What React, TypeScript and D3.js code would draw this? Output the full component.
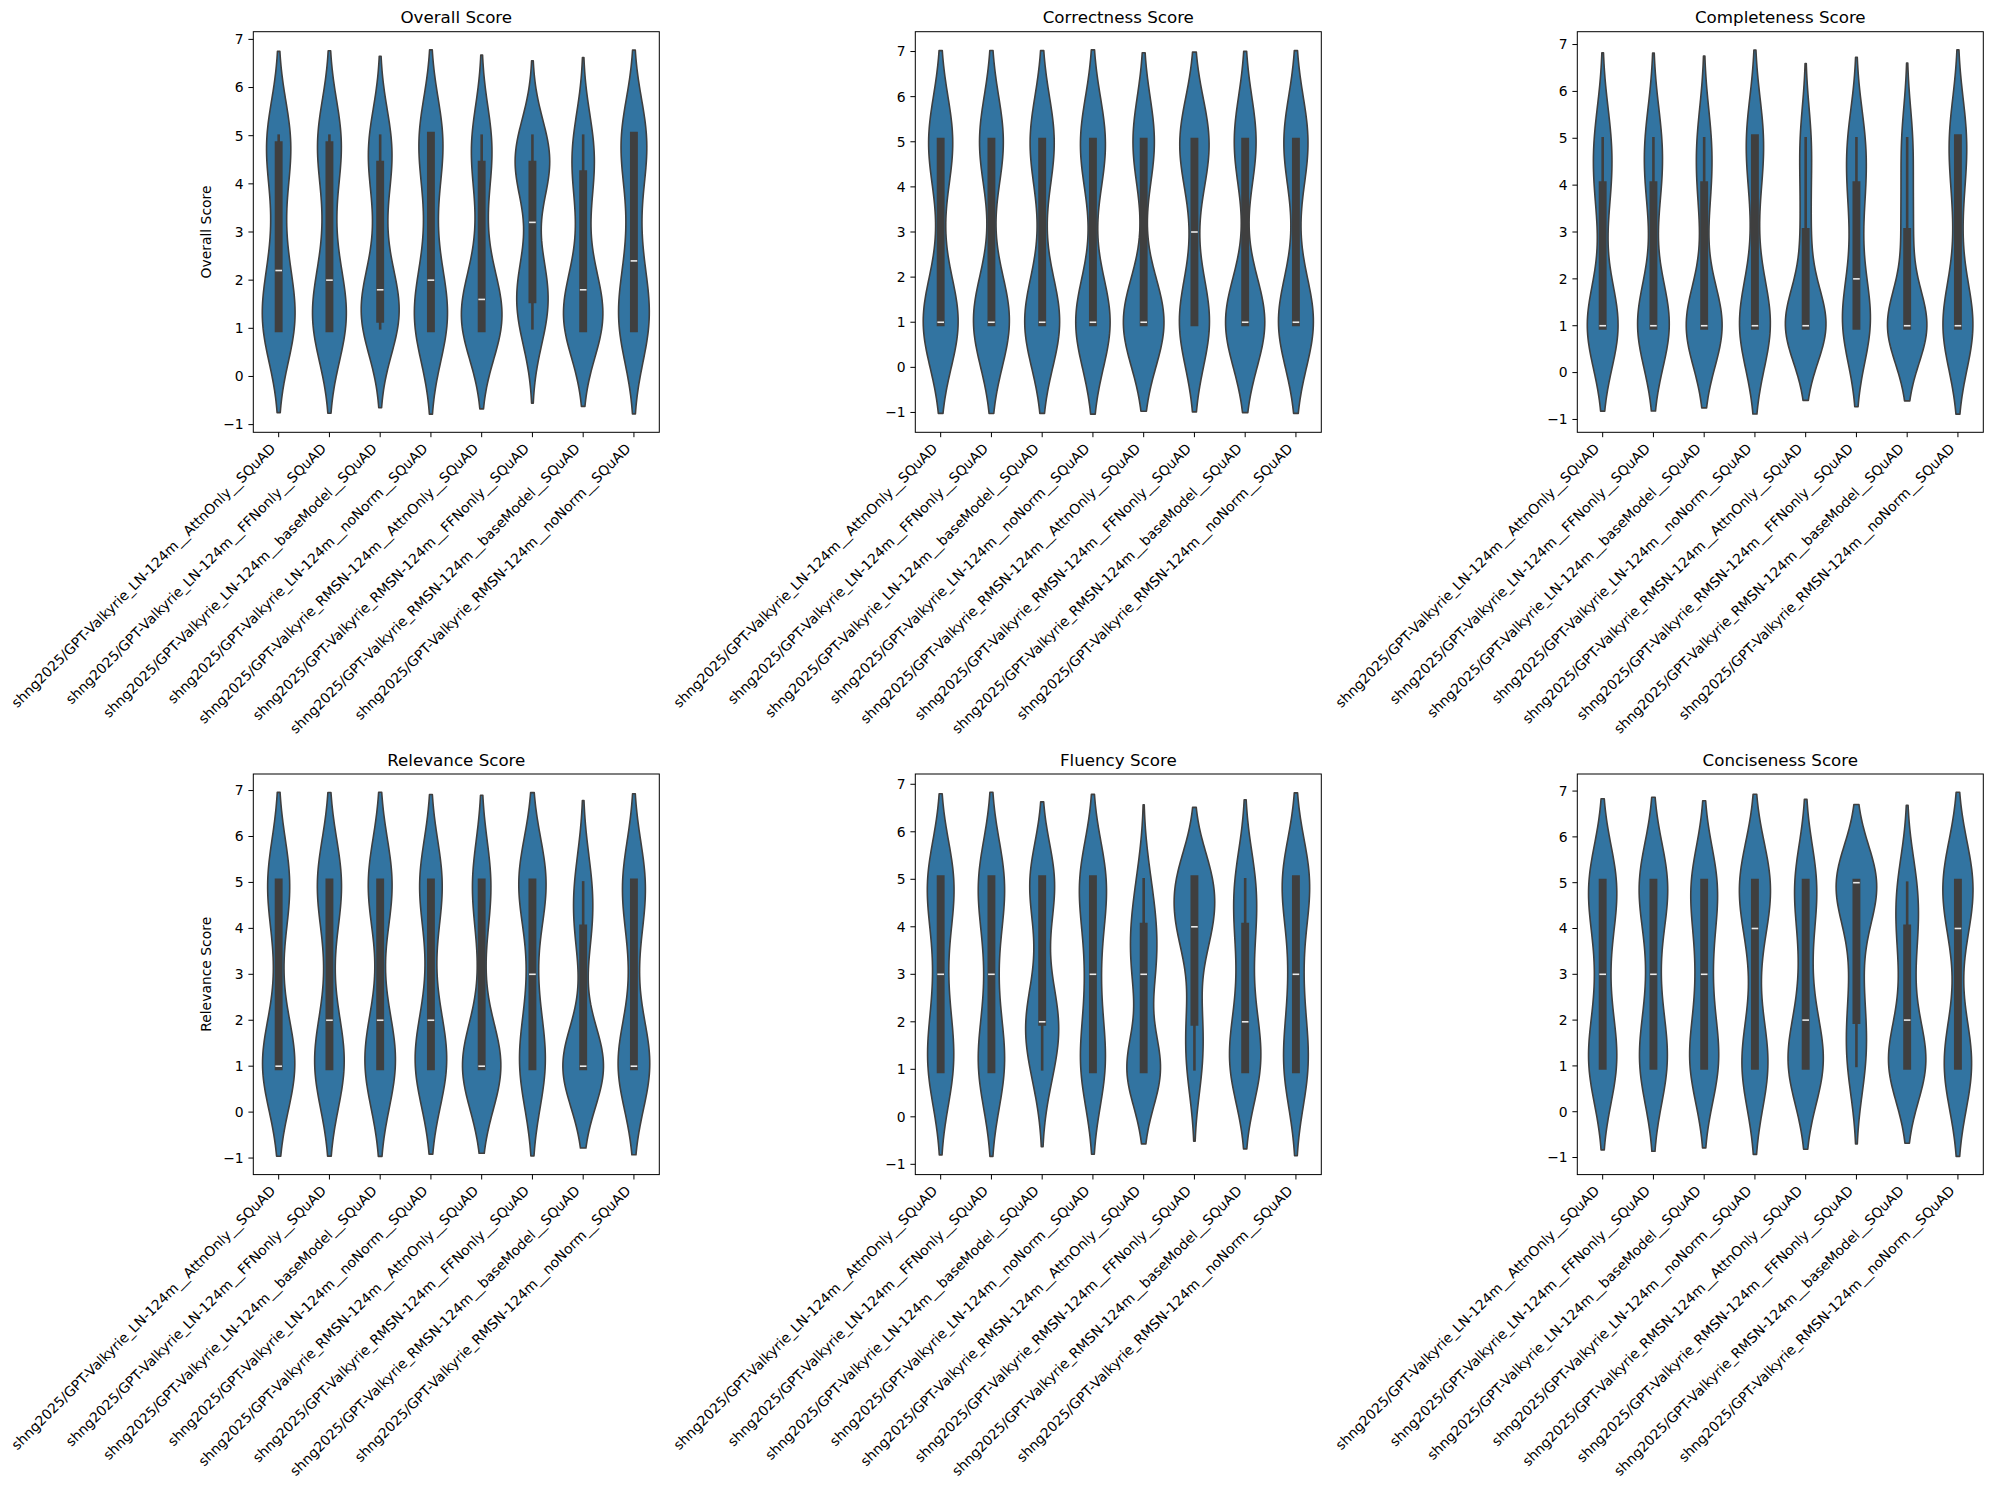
import React from "react";
import * as d3 from "d3";

// category labels (x axis of every panel)
const models = [
  "shng2025/GPT-Valkyrie_LN-124m__AttnOnly__SQuAD",
  "shng2025/GPT-Valkyrie_LN-124m__FFNonly__SQuAD",
  "shng2025/GPT-Valkyrie_LN-124m__baseModel__SQuAD",
  "shng2025/GPT-Valkyrie_LN-124m__noNorm__SQuAD",
  "shng2025/GPT-Valkyrie_RMSN-124m__AttnOnly__SQuAD",
  "shng2025/GPT-Valkyrie_RMSN-124m__FFNonly__SQuAD",
  "shng2025/GPT-Valkyrie_RMSN-124m__baseModel__SQuAD",
  "shng2025/GPT-Valkyrie_RMSN-124m__noNorm__SQuAD",
];

const yTickValues = [-1, 0, 1, 2, 3, 4, 5, 6, 7];

// overall score per answer (average of the judged criteria)
const overallScores = [
  [1, 1, 1, 1, 1, 1, 1, 1, 1.2, 1.2, 1.4, 1.6, 2.0, 2.2, 2.2, 2.6, 3.0, 3.8, 4.2, 4.4, 4.8, 4.8, 5, 5, 5, 5, 5, 5],
  [1, 1, 1, 1, 1, 1, 1, 1, 1.2, 1.2, 1.4, 1.6, 1.8, 2.0, 2.0, 2.4, 3.0, 3.6, 4.2, 4.6, 4.8, 4.8, 5, 5, 5, 5, 5, 5],
  [1, 1, 1, 1, 1, 1.2, 1.2, 1.2, 1.4, 1.4, 1.4, 1.6, 1.6, 1.8, 1.8, 2.2, 2.6, 3.2, 4.0, 4.2, 4.4, 4.4, 4.6, 4.8, 5, 5, 5, 5],
  [1, 1, 1, 1, 1, 1, 1, 1, 1.2, 1.4, 1.4, 1.6, 1.8, 2.0, 2.0, 2.6, 3.2, 3.8, 4.2, 4.6, 5, 5, 5, 5, 5, 5, 5, 5],
  [1, 1, 1, 1, 1, 1, 1, 1, 1.2, 1.2, 1.2, 1.4, 1.4, 1.6, 1.6, 1.8, 2.0, 2.4, 3.0, 3.8, 4.4, 4.4, 4.6, 4.8, 5, 5, 5, 5],
  [1, 1, 1, 1.2, 1.4, 1.4, 1.6, 1.6, 1.8, 1.8, 2.0, 2.2, 2.4, 2.4, 4.0, 4.0, 4.2, 4.2, 4.4, 4.4, 4.4, 4.4, 4.6, 4.6, 4.8, 4.8, 5, 5],
  [1, 1, 1, 1, 1, 1, 1, 1, 1.2, 1.2, 1.4, 1.4, 1.6, 1.8, 1.8, 2.0, 2.2, 2.8, 3.6, 4.0, 4.2, 4.2, 4.4, 4.6, 4.8, 5, 5, 5],
  [1, 1, 1, 1, 1, 1, 1, 1, 1.2, 1.4, 1.6, 1.8, 2.0, 2.4, 2.4, 3.0, 3.6, 4.2, 4.4, 4.6, 5, 5, 5, 5, 5, 5, 5, 5],
];

// counts of answers scored 1,2,3,4,5 for each model
const correctnessCounts = [
  [16, 0, 1, 0, 11], [16, 1, 0, 0, 11], [16, 0, 1, 0, 11], [16, 0, 0, 1, 11],
  [19, 0, 0, 0, 10], [15, 0, 1, 1, 14], [18, 0, 0, 0, 10], [16, 0, 1, 0, 11],
];
const completenessCounts = [
  [16, 0, 1, 5, 6], [16, 1, 0, 5, 6], [18, 0, 1, 4, 5], [16, 1, 1, 2, 8],
  [18, 1, 3, 2, 4], [12, 3, 2, 5, 6], [18, 0, 4, 2, 4], [16, 0, 2, 2, 8],
];
const relevanceCounts = [
  [15, 1, 1, 1, 10], [13, 2, 1, 1, 11], [13, 3, 0, 1, 11], [13, 3, 1, 1, 10],
  [18, 0, 1, 1, 8], [11, 2, 2, 0, 13], [18, 0, 0, 5, 5], [15, 1, 1, 2, 10],
];
const fluencyCounts = [
  [9, 4, 2, 3, 10], [10, 3, 2, 3, 10], [5, 10, 2, 2, 9], [9, 3, 3, 3, 10],
  [13, 0, 6, 6, 3], [4, 4, 1, 9, 10], [10, 5, 2, 5, 6], [9, 3, 3, 2, 11],
];
const concisenessCounts = [
  [10, 3, 2, 3, 10], [10, 3, 2, 2, 11], [10, 3, 3, 3, 9], [11, 1, 1, 3, 12],
  [13, 3, 2, 2, 8], [5, 4, 2, 2, 15], [13, 3, 2, 5, 5], [12, 1, 0, 3, 12],
];

const expand = (counts: number[]) => counts.flatMap((c, k) => Array(c).fill(k + 1));

const panels = [
  { title: "Overall Score", data: overallScores, ylabel: "Overall Score" },
  { title: "Correctness Score", data: correctnessCounts.map(expand), ylabel: null },
  { title: "Completeness Score", data: completenessCounts.map(expand), ylabel: null },
  { title: "Relevance Score", data: relevanceCounts.map(expand), ylabel: "Relevance Score" },
  { title: "Fluency Score", data: fluencyCounts.map(expand), ylabel: null },
  { title: "Conciseness Score", data: concisenessCounts.map(expand), ylabel: null },
];

const WIDTH = 1993;
const HEIGHT = 1489;
const colLefts = [253.3, 915.3, 1577.3];
const rowTops = [31.7, 774];
const W = 406;
const H = 400.6;

const FILL = "#3274a1";
const LINE = "#3f3f3f";
const FONT = "DejaVu Sans, sans-serif";
const TICK_FS = 13.9;
const TITLE_FS = 16.7;

// seaborn-like violin: gaussian kde, scott bandwidth, cut = 2
function violinStats(values: number[]) {
  const sorted = values.slice().sort((a, b) => a - b);
  const n = sorted.length;
  const sd = d3.deviation(sorted) as number;
  const bw = sd * Math.pow(n, -0.2);
  const lo = sorted[0] - 2 * bw;
  const hi = sorted[n - 1] + 2 * bw;
  const grid = d3.range(100).map((i) => lo + ((hi - lo) * i) / 99);
  const norm = 1 / (bw * Math.sqrt(2 * Math.PI));
  const curve = grid.map((g) => [
    g,
    (d3.mean(sorted, (v) => Math.exp(-0.5 * ((g - v) / bw) ** 2)) as number) * norm,
  ]);
  const q1 = d3.quantileSorted(sorted, 0.25) as number;
  const med = d3.quantileSorted(sorted, 0.5) as number;
  const q3 = d3.quantileSorted(sorted, 0.75) as number;
  const iqr = q3 - q1;
  const whisLo = sorted.find((v) => v >= q1 - 1.5 * iqr) as number;
  const whisHi = sorted.filter((v) => v <= q3 + 1.5 * iqr).pop() as number;
  return { curve, lo, hi, q1, med, q3, whisLo, whisHi };
}

function Panel({ title, data, ylabel, left, top }: any) {
  const stats = data.map(violinStats);
  const lo = d3.min(stats, (s: any) => s.lo) as number;
  const hi = d3.max(stats, (s: any) => s.hi) as number;
  const margin = (hi - lo) * 0.05;
  const x = d3.scaleLinear().domain([-0.5, models.length - 0.5]).range([0, W]);
  const y = d3.scaleLinear().domain([lo - margin, hi + margin]).range([H, 0]);
  const maxD = d3.max(stats, (s: any) => d3.max(s.curve, (c: number[]) => c[1])) as number;
  const unit = x(1) - x(0);
  const fmt = d3.format("d");

  return (
    <g transform={`translate(${left},${top})`}>
      {stats.map((s: any, i: number) => {
        const cx = x(i);
        const area = d3
          .area<number[]>()
          .y((d) => y(d[0]))
          .x0((d) => cx - (d[1] / maxD) * 0.4 * unit)
          .x1((d) => cx + (d[1] / maxD) * 0.4 * unit);
        return (
          <g key={i}>
            <path d={area(s.curve) as string} fill={FILL} stroke={LINE} strokeWidth={1.6} strokeLinejoin="round" />
            <line x1={cx} x2={cx} y1={y(s.whisLo)} y2={y(s.whisHi)} stroke={LINE} strokeWidth={2.6} strokeLinecap="square" />
            <line x1={cx} x2={cx} y1={y(s.q1)} y2={y(s.q3)} stroke={LINE} strokeWidth={7.9} strokeLinecap="square" />
            <line x1={cx - 3.3} x2={cx + 3.3} y1={y(s.med)} y2={y(s.med)} stroke="#ebebeb" strokeWidth={1.6} />
          </g>
        );
      })}
      <rect x={0} y={0} width={W} height={H} fill="none" stroke="#000" strokeWidth={1} />
      {yTickValues.map((t) => (
        <g key={t} transform={`translate(0,${y(t)})`}>
          <line x1={-4.9} x2={0} stroke="#000" strokeWidth={1} />
          <text x={-9.7} dy="0.35em" textAnchor="end" fontSize={TICK_FS} fontFamily={FONT} fill="#000">
            {fmt(t)}
          </text>
        </g>
      ))}
      {models.map((m, i) => (
        <g key={m}>
          <line x1={x(i)} x2={x(i)} y1={H} y2={H + 4.9} stroke="#000" strokeWidth={1} />
          <text
            transform={`translate(${x(i) - 2.3},${H + 17.2}) rotate(-45)`}
            textAnchor="end"
            fontSize={TICK_FS}
            fontFamily={FONT}
            fill="#000"
          >
            {m}
          </text>
        </g>
      ))}
      <text x={W / 2} y={-8.3} textAnchor="middle" fontSize={TITLE_FS} fontFamily={FONT} fill="#000">
        {title}
      </text>
      {ylabel && (
        <text transform={`translate(-42.6,${H / 2}) rotate(-90)`} textAnchor="middle" fontSize={TICK_FS} fontFamily={FONT} fill="#000">
          {ylabel}
        </text>
      )}
    </g>
  );
}

export default function App() {
  return (
    <svg
      width={WIDTH}
      height={HEIGHT}
      style={{ position: "absolute", left: 0, top: 0, background: "#fff" }}
    >
      <rect width={WIDTH} height={HEIGHT} fill="#fff" />
      {panels.map((p, k) => (
        <Panel key={p.title} {...p} left={colLefts[k % 3]} top={rowTops[Math.floor(k / 3)]} />
      ))}
    </svg>
  );
}
